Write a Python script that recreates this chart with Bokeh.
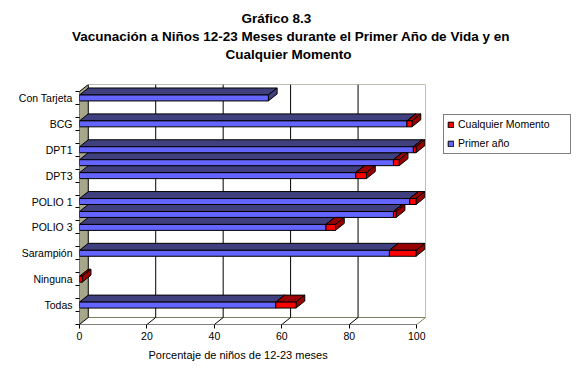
from bokeh.plotting import figure
from bokeh.models import Range1d, FixedTicker, Legend, LegendItem, Title
from bokeh.embed import file_html
from bokeh.resources import INLINE

# ---------------- data ----------------
categories = ["Con Tarjeta", "", "BCG", "", "DPT1", "DPT2", "DPT3", "",
              "POLIO 1", "POLIO 2", "POLIO 3", "", "Sarampión", "",
              "Ninguna", "", "Todas", ""]
primer_ano = [56.0, None, 97.1, None, 99.0, 93.1, 81.9, None,
              97.9, 93.1, 73.1, None, 91.9, None, 0.0, None, 58.2, None]
cualquier_momento = [56.0, None, 98.6, None, 99.8, 94.8, 85.1, None,
                     99.8, 93.9, 75.9, None, 99.8, None, 0.8, None, 64.2, None]
x_ticks = [0, 20, 40, 60, 80, 100]
series_names = ["Cualquier Momento", "Primer año"]
title_lines = ["Gráfico 8.3",
               "Vacunación a Niños 12-23 Meses durante el Primer Año de Vida y en",
               "Cualquier Momento"]
x_title = "Porcentaje de niños de 12-23 meses"

# ---------------- geometry / style ----------------
FONT = "Liberation Sans"
N = len(categories)
XMAX = x_ticks[-1]
DX = 2.6      # depth offset, value units
DY = 0.54     # depth offset, slot units
FH = 0.46     # front face height, slot units
BLUE, BLUE_D = "#6464FF", "#40407E"
RED, RED_D = "#FF0000", "#990000"
WALL = "#A6A68A"
OLIVE = "#7E7E60"

p = figure(frame_width=346, frame_height=240,
           min_border_left=79, min_border_right=154,
           min_border_top=84, min_border_bottom=60,
           x_range=Range1d(0, XMAX + DX), y_range=Range1d(0, N + DY),
           output_backend="svg", toolbar_location=None)
p.outline_line_color = None
p.background_fill_color = "white"
p.border_fill_color = "white"
p.xgrid.visible = False
p.ygrid.visible = False

# back plane outline
p.segment(x0=[DX, XMAX + DX, DX], y0=[DY, DY, N + DY],
          x1=[XMAX + DX, XMAX + DX, XMAX + DX], y1=[DY, N + DY, N + DY],
          line_color=OLIVE, line_width=1)
# gridlines on back wall and floor diagonals
inner = x_ticks[1:-1]
p.segment(x0=[t + DX for t in inner], y0=[DY] * len(inner),
          x1=[t + DX for t in inner], y1=[N + DY] * len(inner),
          line_color="black", line_width=1)
p.segment(x0=inner, y0=[0] * len(inner),
          x1=[t + DX for t in inner], y1=[DY] * len(inner),
          line_color="black", line_width=1)
p.segment(x0=[XMAX], y0=[0], x1=[XMAX + DX], y1=[DY], line_color=OLIVE, line_width=1)
# left wall
p.patch(x=[0, DX, DX, 0], y=[0, DY, N + DY, N], fill_color=WALL,
        line_color="black", line_width=1)
# front axis line
p.segment(x0=[0], y0=[0], x1=[XMAX], y1=[0], line_color="black", line_width=1)


def boxes(starts, ends):
    fr = dict(left=[], right=[], bottom=[], top=[])
    tops = dict(xs=[], ys=[])
    sides = dict(xs=[], ys=[])
    for i, (a, b) in enumerate(zip(starts, ends)):
        if a is None or b is None or b - a <= 0:
            continue
        yc = N - i - 0.5
        yb, yt = yc - FH / 2, yc + FH / 2
        fr["left"].append(a); fr["right"].append(b)
        fr["bottom"].append(yb); fr["top"].append(yt)
        tops["xs"].append([a, b, b + DX, a + DX])
        tops["ys"].append([yt, yt, yt + DY, yt + DY])
        sides["xs"].append([b, b, b + DX, b + DX])
        sides["ys"].append([yb, yt, yt + DY, yb + DY])
    return fr, tops, sides


zeros = [None if v is None else 0.0 for v in primer_ano]
b_fr, b_top, b_side = boxes(zeros, primer_ano)
r_fr, r_top, r_side = boxes(primer_ano, cualquier_momento)

p.patches(xs=b_top["xs"], ys=b_top["ys"], fill_color=BLUE_D, line_color="black", line_width=1)
p.patches(xs=b_side["xs"], ys=b_side["ys"], fill_color=BLUE_D, line_color="black", line_width=1)
blue_r = p.quad(left=b_fr["left"], right=b_fr["right"], bottom=b_fr["bottom"], top=b_fr["top"],
                fill_color=BLUE, line_color="black", line_width=1)
p.patches(xs=r_top["xs"], ys=r_top["ys"], fill_color=RED_D, line_color="black", line_width=1)
p.patches(xs=r_side["xs"], ys=r_side["ys"], fill_color=RED_D, line_color="black", line_width=1)
red_r = p.quad(left=r_fr["left"], right=r_fr["right"], bottom=r_fr["bottom"], top=r_fr["top"],
               fill_color=RED, line_color="black", line_width=1)

# ---------------- axes ----------------
xa = p.xaxis[0]
xa.ticker = FixedTicker(ticks=x_ticks, minor_ticks=[])
xa.axis_line_color = None
xa.major_tick_out = 4
xa.major_tick_in = 0
xa.major_tick_line_color = "black"
xa.minor_tick_line_color = None
xa.major_label_standoff = 3
xa.major_label_text_font = FONT
xa.major_label_text_font_size = "10.5px"
xa.major_label_text_color = "black"

ya = p.yaxis[0]
label_pos = [N - i - 0.5 for i in range(0, N, 2)]
ya.ticker = FixedTicker(ticks=label_pos, minor_ticks=list(range(0, N + 1)))
ya.major_label_overrides = {N - i - 0.5: categories[i] for i in range(0, N, 2)}
ya.axis_line_color = None
ya.major_tick_out = 0
ya.major_tick_in = 0
ya.minor_tick_out = 4
ya.minor_tick_in = 0
ya.minor_tick_line_color = "black"
ya.major_label_standoff = 3
ya.major_label_text_font = FONT
ya.major_label_text_font_size = "10.5px"
ya.major_label_text_color = "black"

# ---------------- titles ----------------
# spacer between plot area and the title block
p.add_layout(Title(text=" ", standoff=19, text_font_size="1px"), "above")
title_offsets = [162, -7.5, 146]
for t, off in reversed(list(zip(title_lines, title_offsets))):
    p.add_layout(Title(text=t, align="left", offset=off, standoff=1,
                       text_font=FONT, text_font_size="13.5px", text_font_style="bold",
                       text_color="black"), "above")
p.add_layout(Title(text=x_title, align="left", offset=69, standoff=8,
                   text_font=FONT, text_font_size="11px", text_font_style="normal",
                   text_color="black"), "below")

# ---------------- legend ----------------
legend = Legend(items=[LegendItem(label=series_names[0], renderers=[red_r]),
                       LegendItem(label=series_names[1], renderers=[blue_r])],
                location=(18, 170.5), orientation="vertical",
                border_line_color="black", border_line_width=1,
                background_fill_color="white", background_fill_alpha=1.0,
                label_text_font=FONT, label_text_font_size="10.5px",
                label_text_color="black",
                glyph_width=7, glyph_height=7, label_standoff=4,
                label_width=109, label_height=13, padding=3, spacing=6, margin=0)
p.add_layout(legend, "right")

open("out.html", "w").write(file_html(p, INLINE))
